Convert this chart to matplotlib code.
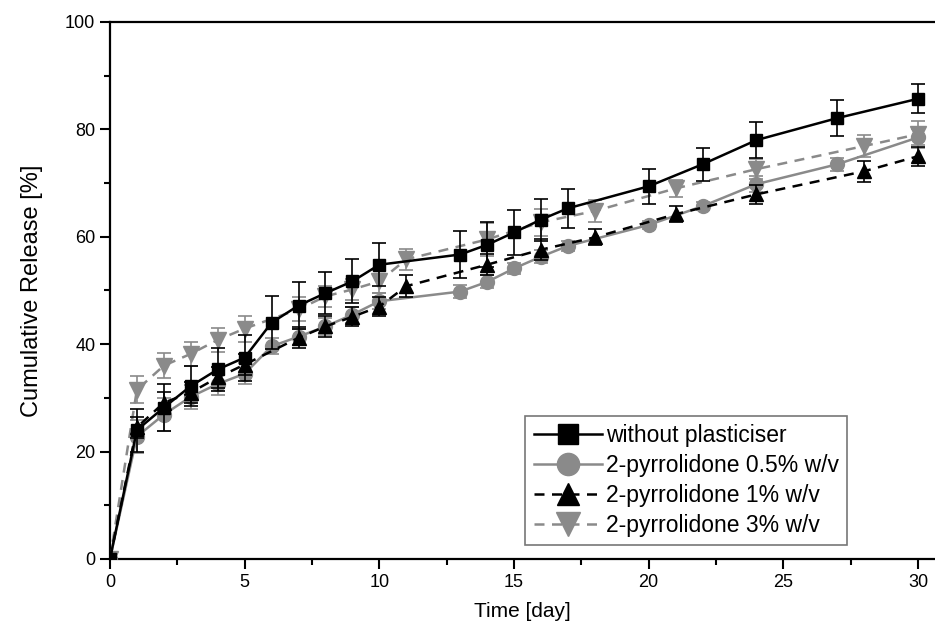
import matplotlib
matplotlib.use("Agg")
import matplotlib.pyplot as plt
from matplotlib.ticker import MultipleLocator

plt.rcParams['font.family'] = ['Liberation Sans', 'DejaVu Sans']

# days sampled
days_a = [0, 1, 2, 3, 4, 5, 6, 7, 8, 9, 10, 13, 14, 15, 16, 17, 20, 22, 24, 27, 30]
days_b = [0, 1, 2, 3, 4, 5, 7, 8, 9, 10, 11, 14, 16, 18, 21, 24, 28, 30]

# without plasticiser
no_plast = [0, 24.0, 28.2, 32.2, 35.3, 37.5, 44.0, 47.2, 49.5, 51.7, 54.8,
            56.7, 58.5, 60.8, 63.2, 65.3, 69.4, 73.5, 78.0, 82.1, 85.7]
no_plast_err = [0, 4.0, 4.3, 3.8, 4.0, 4.3, 4.9, 4.3, 3.9, 4.1, 4.0,
                4.3, 4.2, 4.2, 3.9, 3.6, 3.3, 3.1, 3.3, 3.3, 2.7]

# 2-pyrrolidone 0.5% w/v
pyr05 = [0, 22.8, 26.9, 30.2, 32.6, 34.5, 39.6, 41.4, 43.3, 45.5, 48.0,
         49.8, 51.6, 54.1, 56.3, 58.3, 62.2, 65.7, 69.8, 73.5, 78.5]
pyr05_err = [0, 3.0, 3.0, 2.2, 2.0, 2.0, 1.5, 1.5, 1.5, 1.5, 1.5,
             1.2, 1.2, 1.0, 1.2, 1.0, 0.8, 0.8, 1.5, 1.2, 1.5]

# 2-pyrrolidone 1% w/v
pyr1 = [0, 24.5, 29.1, 31.0, 33.8, 36.2, 41.2, 43.3, 45.1, 47.0, 50.8,
        54.8, 57.6, 59.9, 64.2, 67.9, 72.2, 75.0]
pyr1_err = [0, 2.0, 2.0, 2.0, 2.0, 2.0, 2.0, 2.0, 1.8, 1.8, 2.0,
            2.0, 2.0, 1.5, 1.5, 1.8, 2.0, 1.8]

# 2-pyrrolidone 3% w/v
pyr3 = [0, 31.5, 36.0, 38.2, 40.8, 42.9, 46.5, 48.9, 50.2, 51.7, 55.8,
        59.5, 62.7, 64.8, 69.0, 72.6, 76.9, 79.1]
pyr3_err = [0, 2.5, 2.3, 2.3, 2.2, 2.4, 2.2, 2.0, 2.0, 2.2, 2.0,
            3.0, 2.5, 2.0, 1.5, 1.8, 2.0, 2.5]

labels = ['without plasticiser', '2-pyrrolidone 0.5% w/v',
          '2-pyrrolidone 1% w/v', '2-pyrrolidone 3% w/v']

grey = '#8a8a8a'
dash = (0, (4, 3))

fig = plt.figure(figsize=(9.35, 6.39), dpi=100)
ax = fig.add_axes([0.1176, 0.1252, 0.8824, 0.8404])

series = [
    (days_a, no_plast, no_plast_err, 'black', '-', 's', 9, 4),
    (days_a, pyr05, pyr05_err, grey, '-', 'o', 10, 3),
    (days_b, pyr1, pyr1_err, 'black', dash, '^', 10, 3),
    (days_b, pyr3, pyr3_err, grey, dash, 'v', 11, 2),
]
handles = []
for (x, y, e, c, ls, m, ms, z), lab in zip(series, labels):
    ax.errorbar(x, y, yerr=e, fmt='none', ecolor=c, capsize=5,
                elinewidth=1.2, capthick=1.2, zorder=z)
    h, = ax.plot(x, y, color=c, lw=1.8, ls=ls, marker=m, ms=ms,
                 label=lab, zorder=z)
    handles.append(h)

ax.set_xlim(0, 30.63)
ax.set_ylim(0, 100)
ax.xaxis.set_major_locator(MultipleLocator(5))
ax.xaxis.set_minor_locator(MultipleLocator(2.5))
ax.yaxis.set_major_locator(MultipleLocator(20))
ax.yaxis.set_minor_locator(MultipleLocator(10))
ax.tick_params(which='major', direction='out', length=7, width=1.5, labelsize=13)
ax.tick_params(which='minor', direction='out', length=4, width=1.5)
ax.spines['right'].set_visible(False)
for s in ['left', 'bottom', 'top']:
    ax.spines[s].set_linewidth(1.6)

ax.set_xlabel('Time [day]', fontsize=15, labelpad=8)
ax.set_ylabel('Cumulative Release [%]', fontsize=17, labelpad=16)

leg = ax.legend(handles=handles, loc='lower right', bbox_to_anchor=(0.893, 0.026),
                fontsize=16.5, frameon=True, fancybox=False, edgecolor='#555555',
                markerscale=1.6, handlelength=3.0, handletextpad=0.15,
                labelspacing=0.3, borderpad=0.35, borderaxespad=0)
leg.get_frame().set_linewidth(1.2)

fig.savefig('out.png', dpi=100)
